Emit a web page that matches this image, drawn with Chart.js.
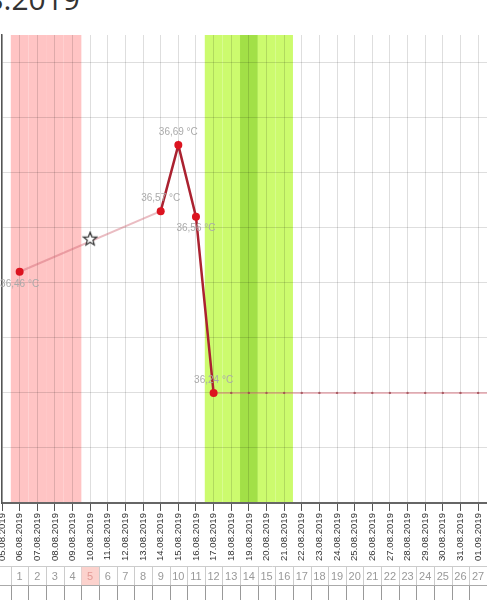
<!DOCTYPE html>
<html>
<head>
<meta charset="utf-8">
<script src="https://cdn.jsdelivr.net/npm/chart.js@4"></script>
<style>
  html, body { margin: 0; padding: 0; background: #fff; overflow: hidden; }
  #wrap { position: relative; width: 487px; height: 600px; overflow: hidden; }
  #title { position: absolute; right: 407px; top: -16px; font: 30px/30px "Open Sans", sans-serif; color: #333; white-space: nowrap; }
  #box { position: absolute; left: 0; top: 0; width: 545px; height: 600px; }
</style>
</head>
<body>
<div id="wrap">
  <div id="title">Zyklus vom 06.08.2019</div>
  <div id="box"><canvas id="chart"></canvas></div>
</div>
<script>
// days shown on the x axis
const days = [
  "05.08.2019", "06.08.2019", "07.08.2019", "08.08.2019", "09.08.2019",
  "10.08.2019", "11.08.2019", "12.08.2019", "13.08.2019", "14.08.2019",
  "15.08.2019", "16.08.2019", "17.08.2019", "18.08.2019", "19.08.2019",
  "20.08.2019", "21.08.2019", "22.08.2019", "23.08.2019", "24.08.2019",
  "25.08.2019", "26.08.2019", "27.08.2019", "28.08.2019", "29.08.2019",
  "30.08.2019", "31.08.2019", "01.09.2019", "02.09.2019", "03.09.2019",
  "04.09.2019",
];
const cycleDays = [
  "", "1", "2", "3", "4", "5", "6", "7", "8", "9", "10", "11", "12", "13", "14",
  "15", "16", "17", "18", "19", "20", "21", "22", "23", "24", "25", "26", "27",
  "28", "29", "30",
];
// measured temperatures (°C)
const temps = [
  null, 36.46, null, null, null, null, null, null, null, 36.57,
  36.69, 36.56, 36.24, null, null, null, null, null, null, null,
  null, null, null, null, null, null, null, null, null, null, null,
];
// flat line after the last measurement
const flatLine = [
  null, null, null, null, null, null, null, null, null, null,
  null, null, 36.24, 36.24, 36.24, 36.24, 36.24, 36.24, 36.24, 36.24,
  36.24, 36.24, 36.24, 36.24, 36.24, 36.24, 36.24, 36.24, 36.24, 36.24, 36.24,
];
// star marker
const starMark = [
  null, null, null, null, null, 36.52, null, null, null, null,
  null, null, null, null, null, null, null, null, null, null,
  null, null, null, null, null, null, null, null, null, null, null,
];
const yTicks = [36.04, 36.14, 36.24, 36.34, 36.44, 36.54, 36.64, 36.74, 36.84];
const periodDays = [1, 2, 3, 4];
const fertileDays = [12, 13, 14, 15, 16];
const peakDays = [14];
const markedDay = 5;

const labelSide = ["below", "above", "above", "below", "above"];

// star point image
const star = document.createElement("canvas");
star.width = 16; star.height = 16;
(function () {
  const c = star.getContext("2d");
  c.beginPath();
  for (let i = 0; i < 10; i++) {
    const r = i % 2 === 0 ? 7 : 3;
    const a = -Math.PI / 2 + i * Math.PI / 5;
    const x = 8 + r * Math.cos(a), y = 8.5 + r * Math.sin(a);
    i === 0 ? c.moveTo(x, y) : c.lineTo(x, y);
  }
  c.closePath();
  c.fillStyle = "#fff";
  c.fill();
  c.lineWidth = 1.2;
  c.strokeStyle = "#333";
  c.stroke();
})();

const bands = {
  id: "bands",
  beforeDraw(chart) {
    const { ctx, chartArea: a, scales: { x } } = chart;
    const fill = (list, color) => {
      ctx.fillStyle = color;
      list.forEach(i => {
        const x0 = x.getPixelForValue(i - 0.5), x1 = x.getPixelForValue(i + 0.5);
        ctx.fillRect(x0, a.top, x1 - x0, a.bottom - a.top);
      });
    };
    ctx.save();
    fill(periodDays, "#ffc4c4");
    fill(fertileDays, "#ccfb6e");
    fill(peakDays, "#a2e047");
    ctx.restore();
  },
};

const valueLabels = {
  id: "valueLabels",
  afterDatasetsDraw(chart) {
    const { ctx } = chart;
    const meta = chart.getDatasetMeta(0);
    ctx.save();
    ctx.font = "10px 'Liberation Sans', Arial, sans-serif";
    ctx.fillStyle = "#aaa";
    ctx.textAlign = "center";
    ctx.textBaseline = "middle";
    let k = 0;
    temps.forEach((v, i) => {
      if (v === null) return;
      const p = meta.data[i];
      const dy = labelSide[k] === "above" ? -13 : 12;
      ctx.fillText(v.toFixed(2).replace(".", ",") + " °C", p.x, p.y + dy);
      k++;
    });
    ctx.restore();
  },
};

const cycleTable = {
  id: "cycleTable",
  afterDraw(chart) {
    const { ctx, scales: { x } } = chart;
    const top = 566, mid = 585, bot = 620;
    ctx.save();
    ctx.font = "11px 'Liberation Sans', Arial, sans-serif";
    ctx.textAlign = "center";
    ctx.textBaseline = "middle";
    cycleDays.forEach((d, i) => {
      const x0 = Math.round(x.getPixelForValue(i - 0.5)) + 0.5;
      const x1 = Math.round(x.getPixelForValue(i + 0.5)) + 0.5;
      if (i === markedDay) {
        ctx.fillStyle = "#fcd2cd";
        ctx.fillRect(x0, top, x1 - x0, mid - top);
      }
      ctx.strokeStyle = "#ccc";
      ctx.lineWidth = 1;
      ctx.beginPath();
      ctx.moveTo(x1, top); ctx.lineTo(x1, mid);
      ctx.stroke();
      ctx.strokeStyle = "#999";
      ctx.beginPath();
      ctx.moveTo(x1, mid); ctx.lineTo(x1, bot);
      ctx.stroke();
      ctx.fillStyle = i === markedDay ? "#e39a95" : "#999";
      ctx.fillText(d, x.getPixelForValue(i), (top + mid) / 2 + 1);
    });
    ctx.strokeStyle = "#ccc";
    ctx.beginPath();
    ctx.moveTo(0, top + 0.5); ctx.lineTo(chart.width, top + 0.5);
    ctx.stroke();
    ctx.strokeStyle = "#aaa";
    ctx.beginPath();
    ctx.moveTo(0, mid + 0.5); ctx.lineTo(chart.width, mid + 0.5);
    ctx.stroke();
    ctx.restore();
  },
};

// a segment that bridges missing days is drawn light
const isGap = ctx => temps[ctx.p0DataIndex] === null;

new Chart(document.getElementById("chart").getContext("2d"), {
  type: "line",
  data: {
    labels: days,
    datasets: [
      {
        label: "Temperatur",
        data: temps,
        spanGaps: true,
        borderColor: "#ab2230",
        borderWidth: 2.5,
        pointRadius: 4,
        pointBorderWidth: 0,
        pointBackgroundColor: "#dc1420",
        segment: {
          borderColor: ctx => (isGap(ctx) ? "rgba(205,95,110,0.42)" : undefined),
          borderWidth: ctx => (isGap(ctx) ? 2 : undefined),
        },
        order: 1,
      },
      {
        label: "Linie",
        data: flatLine,
        borderColor: "rgba(215,110,125,0.45)",
        borderWidth: 2,
        pointRadius: 1.2,
        pointBackgroundColor: "rgba(150,60,70,0.7)",
        pointBorderWidth: 0,
        order: 3,
      },
      {
        label: "Stern",
        data: starMark,
        pointStyle: star,
        showLine: false,
        order: 0,
      },
    ],
  },
  options: {
    responsive: true,
    maintainAspectRatio: false,
    animation: false,
    layout: { autoPadding: false, padding: { left: 2, right: 14, top: 35, bottom: 34 } },
    plugins: { legend: { display: false }, tooltip: { enabled: false } },
    scales: {
      x: {
        offset: false,
        grid: { color: "rgba(0,0,0,0.13)", tickColor: "#555", tickLength: 8 },
        border: { color: "#666", width: 2 },
        ticks: {
          autoSkip: false, maxRotation: 90, minRotation: 90, padding: 2,
          color: "#333", font: { size: 9.6, family: "'Liberation Sans', Arial, sans-serif" },
        },
        afterFit: s => { s.height = 63; },
      },
      y: {
        min: 36.04,
        max: 36.89,
        ticks: { display: false },
        grid: { color: "rgba(0,0,0,0.13)", drawTicks: false },
        border: { color: "#555", width: 1.5 },
        afterBuildTicks: s => { s.ticks = yTicks.map(v => ({ value: v })); },
        afterFit: s => { s.width = 0; },
      },
    },
  },
  plugins: [bands, valueLabels, cycleTable],
});
</script>
</body>
</html>
